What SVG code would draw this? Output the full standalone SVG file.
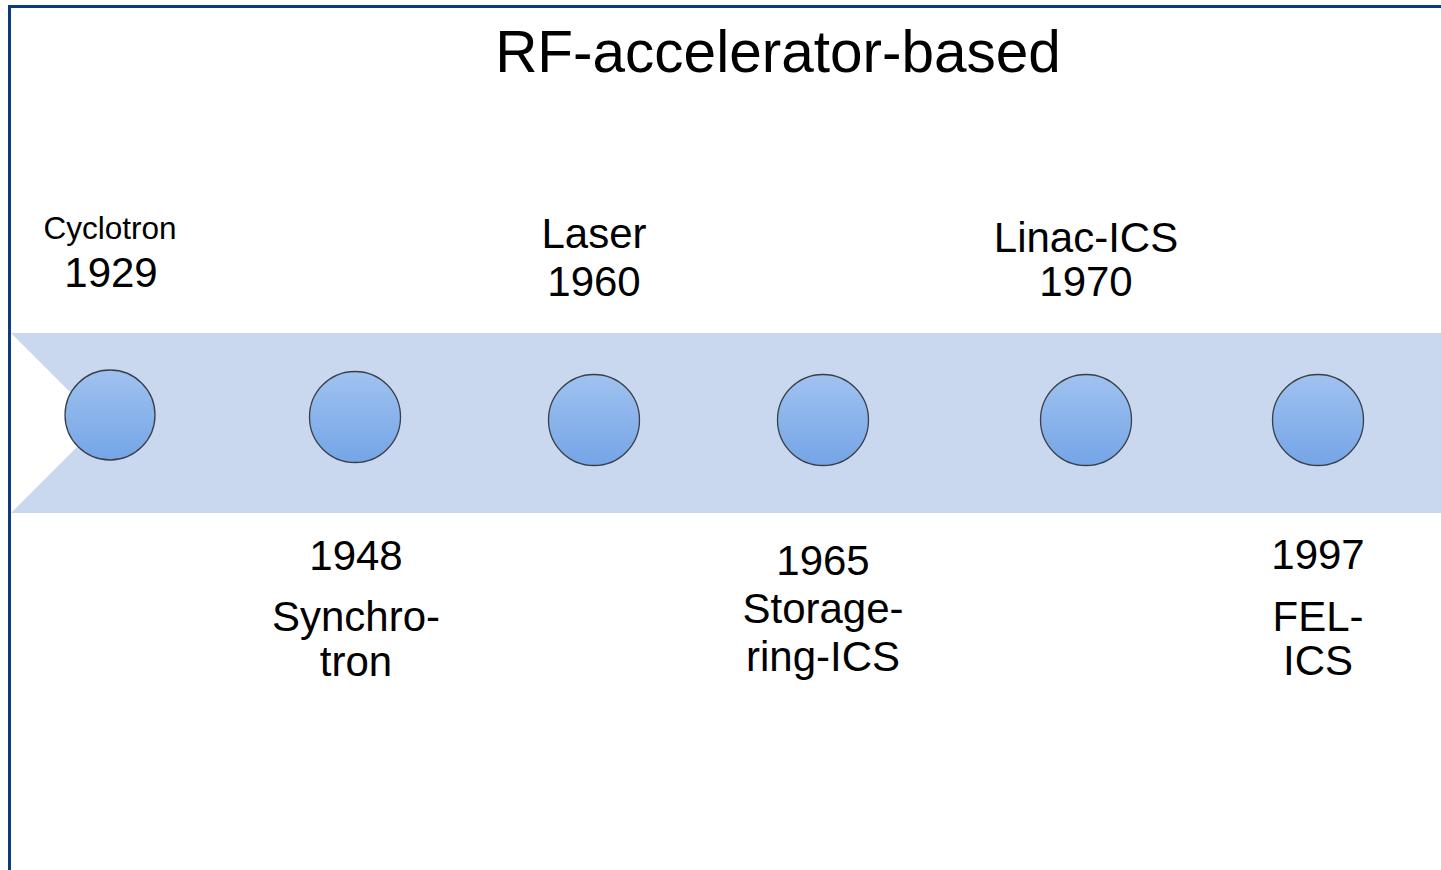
<svg xmlns="http://www.w3.org/2000/svg" width="1441" height="870" viewBox="0 0 1441 870">
<style>
text{font-family:"Liberation Sans",Arial,sans-serif;fill:#000;text-anchor:middle}
.t{font-size:42px}
.c{fill:url(#g);stroke:#3a3f47;stroke-width:1.3}
</style>
<defs>
<linearGradient id="g" x1="0" y1="0" x2="0" y2="1">
<stop offset="0" stop-color="#a0c2f0"/>
<stop offset="1" stop-color="#74a5e6"/>
</linearGradient>
</defs>
<rect width="1441" height="870" fill="#fff"/>
<path d="M9.5 870 V6.5 H1441" fill="none" stroke="#0d3a80" stroke-width="3"/>
<text x="778" y="72" style="font-size:58.5px">RF-accelerator-based</text>
<path id="band" d="M11 333 H1441 V513 H11 L101 423 Z" fill="#c9d8ee"/>
<g id="n1"><circle class="c" cx="110" cy="415" r="45"/><text x="110" y="239" style="font-size:31.5px">Cyclotron</text><text class="t" x="111" y="287">1929</text></g>
<g id="n2"><circle class="c" cx="355" cy="417" r="45.5"/><text class="t" x="356" y="570">1948</text><text class="t" x="356" y="631">Synchro-</text><text class="t" x="356" y="676">tron</text></g>
<g id="n3"><circle class="c" cx="594" cy="420" r="45.5"/><text class="t" x="594" y="248">Laser</text><text class="t" x="594" y="296">1960</text></g>
<g id="n4"><circle class="c" cx="823" cy="420" r="45.5"/><text class="t" x="823" y="575">1965</text><text class="t" x="823" y="623">Storage-</text><text class="t" x="823" y="671">ring-ICS</text></g>
<g id="n5"><circle class="c" cx="1086" cy="420" r="45.5"/><text class="t" x="1086" y="252">Linac-ICS</text><text class="t" x="1086" y="296">1970</text></g>
<g id="n6"><circle class="c" cx="1318" cy="420" r="45.5"/><text class="t" x="1318" y="569">1997</text><text class="t" x="1318" y="631">FEL-</text><text class="t" x="1318" y="675">ICS</text></g>
<g id="connectors"></g>
</svg>
